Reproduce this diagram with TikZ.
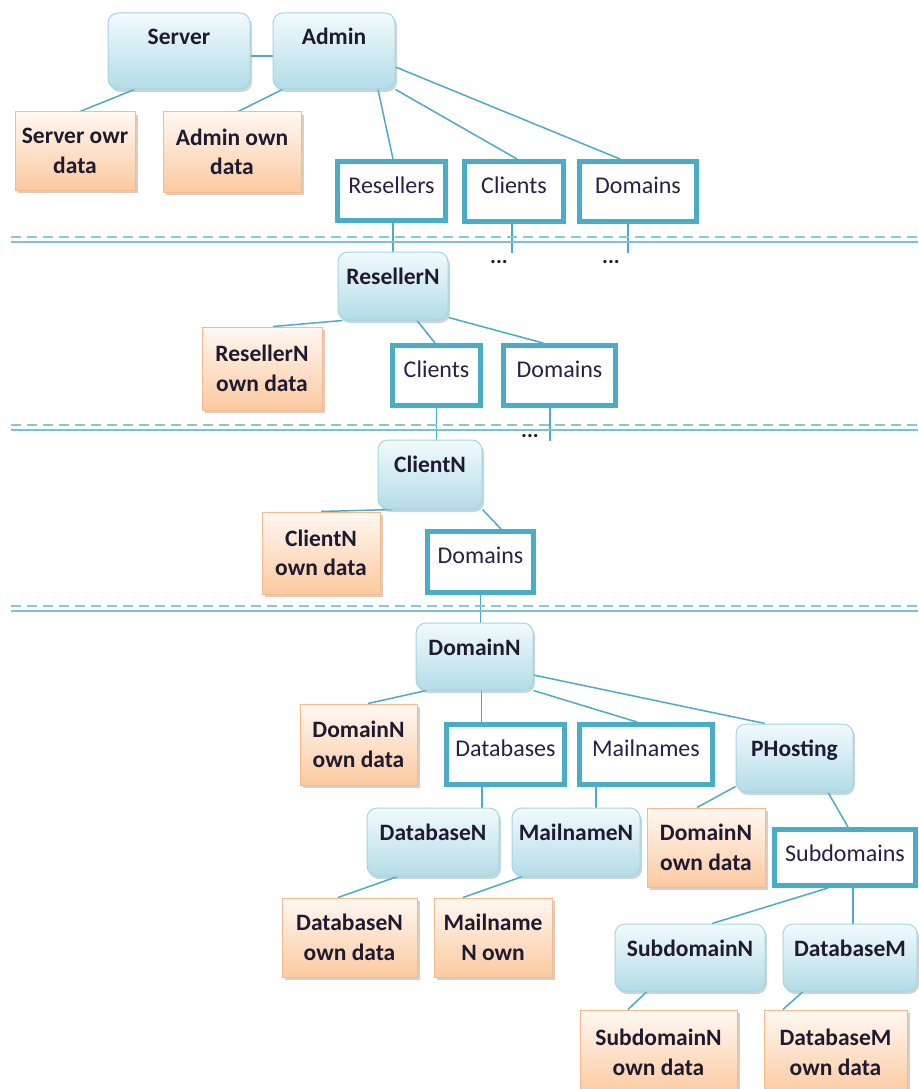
\documentclass[tikz,border=0pt]{standalone}
\usepackage{fontspec}
\setmainfont{Carlito}
\usetikzlibrary{shadows,calc}
\definecolor{lnC}{HTML}{4BACC6}
\definecolor{sepC}{HTML}{86C8D9}
\definecolor{txC}{HTML}{1E1B30}
\definecolor{wtxC}{HTML}{2A1F45}
\definecolor{bTop}{HTML}{F2FAFC}
\definecolor{bBot}{HTML}{B3DCE7}
\definecolor{bDraw}{HTML}{A6D5E2}
\definecolor{bShad}{HTML}{7FA6B4}
\definecolor{oTop}{HTML}{FFF8F2}
\definecolor{oBot}{HTML}{FBC9A0}
\definecolor{oDraw}{HTML}{F8BA8C}
\definecolor{oShad}{HTML}{B98E6E}
\pgfdeclarelayer{bg}
\pgfsetlayers{bg,main}
\tikzset{
  bnode/.style={font=\fontsize{23.5}{29}\selectfont\bfseries, text=txC, draw=bDraw, line width=1pt,
    rounded corners=10pt, top color=bTop, bottom color=bBot, inner sep=0pt, text height=32pt,
    drop shadow={shadow xshift=2pt, shadow yshift=-3pt, fill=bShad, opacity=0.45}},
  onode/.style={font=\fontsize{23.5}{29.5}\selectfont\bfseries, text=txC, draw=oDraw, line width=1pt,
    top color=oTop, bottom color=oBot, inner sep=0pt, align=center,
    drop shadow={shadow xshift=3pt, shadow yshift=-3pt, fill=oShad, opacity=0.45}},
  wnode/.style={font=\fontsize{24}{29}\selectfont, text=wtxC, draw=lnC, line width=5pt, fill=white,
    inner sep=0pt, text height=32pt},
  conn/.style={draw=lnC, line width=1.5pt},
  dotsnode/.style={font=\fontsize{22}{29}\selectfont\bfseries, text=txC, inner sep=0pt},
  sepdash/.style={draw=sepC, line width=2.6pt, dash pattern=on 10pt off 6pt},
  sepline/.style={draw=sepC!80!lnC, line width=1.5pt}
}
\begin{document}
\begin{tikzpicture}[x=1pt,y=-1pt]
\useasboundingbox (0,0) rectangle (918,1089);

% separators
\foreach \yy in {237,425,606}{
  \draw[sepdash] (11,\yy) -- (918,\yy);
  \draw[sepline] (11,\yy+5) -- (918,\yy+5);
}

% blue nodes
\node[bnode, minimum width=142pt, text depth=44pt] (server) at (179,51) {Server};
\node[bnode, minimum width=122pt, text depth=44pt] (admin) at (334,51) {Admin};
\node[bnode, minimum width=110pt, text depth=36pt] (resN) at (393,286) {ResellerN};
\node[bnode, minimum width=104pt, text depth=37pt] (clientN) at (430,474.5) {ClientN};
\node[bnode, minimum width=117pt, text depth=35pt] (domainN) at (474.5,656.5) {DomainN};
\node[bnode, minimum width=117pt, text depth=36pt] (phost) at (794.5,758) {PHosting};
\node[bnode, minimum width=132pt, text depth=36pt] (dbN) at (433,842) {DatabaseN};
\node[bnode, minimum width=128pt, text depth=36pt] (mailN) at (576,842) {MailnameN};
\node[bnode, minimum width=150pt, text depth=35pt] (subN) at (690,957.5) {SubdomainN};
\node[bnode, minimum width=134pt, text depth=35pt] (dbM) at (850,957.5) {DatabaseM};

% orange nodes
\node[onode, minimum width=120pt, minimum height=78pt] (sown) at (75,151) {Server owr\\data};
\node[onode, minimum width=138pt, minimum height=80pt] (aown) at (232,152) {Admin own\\data};
\node[onode, minimum width=120pt, minimum height=83pt] (rown) at (262,368.5) {ResellerN\\own data};
\node[onode, minimum width=118pt, minimum height=82pt] (cown) at (321,553) {ClientN\\own data};
\node[onode, minimum width=117pt, minimum height=81pt] (down) at (358.5,744.5) {DomainN\\own data};
\node[onode, minimum width=135pt, minimum height=79pt] (dbown) at (349.5,937.5) {DatabaseN\\own data};
\node[onode, minimum width=118pt, minimum height=79pt] (mown) at (493,937.5) {Mailname\\N own};
\node[onode, minimum width=118pt, minimum height=79pt] (down2) at (706,847.5) {DomainN\\own data};
\node[onode, minimum width=157pt, minimum height=85pt] (subown) at (658.5,1052.5) {SubdomainN\\own data};
\node[onode, minimum width=143pt, minimum height=85pt] (dbMown) at (835.5,1052.5) {DatabaseM\\own data};

% white boxes
\node[wnode, minimum width=108pt, text depth=27pt] (resellers) at (391.5,191) {Resellers};
\node[wnode, minimum width=99pt, text depth=28pt] (clients1) at (514,191.5) {Clients};
\node[wnode, minimum width=117pt, text depth=28pt] (domains1) at (638,191.5) {Domains};
\node[wnode, minimum width=88pt, text depth=28pt] (clients2) at (436.5,375.5) {Clients};
\node[wnode, minimum width=112pt, text depth=28pt] (domains2) at (559.5,375.5) {Domains};
\node[wnode, minimum width=106pt, text depth=29pt] (domains3) at (480.5,562) {Domains};
\node[wnode, minimum width=118pt, text depth=28pt] (databases) at (505.5,754.5) {Databases};
\node[wnode, minimum width=133pt, text depth=28pt] (mailnames) at (646,754.5) {Mailnames};
\node[wnode, minimum width=141pt, text depth=24pt] (subdomains) at (845,857.5) {Subdomains};

% dots and free ends
\node[dotsnode] (dots1) at (499,262) {...};
\node[dotsnode] (dots2) at (611,262) {...};
\node[dotsnode] (dots3) at (530,436) {...};
\coordinate (end1) at (512,253);
\coordinate (end2) at (628,253);
\coordinate (end3) at (550,441);

\begin{pgfonlayer}{bg}
\fill[white] (0,0) rectangle (918,1089);
\draw[conn] ([yshift=-5pt]server.east) -- ([yshift=-5pt]admin.west);
\draw[conn] ([xshift=27pt]server.south west) -- ([xshift=5pt]sown.north);
\draw[conn] ([xshift=10pt]admin.south west) -- ([xshift=6pt]aown.north);
\draw[conn] ([xshift=44pt]admin.south) -- ([xshift=1.5pt]resellers.north);
\draw[conn] (admin.south east) -- ([xshift=3pt]clients1.north);
\draw[conn] ([yshift=-16pt]admin.east) -- ([xshift=-18pt]domains1.north);
\draw[conn] ([xshift=1.5pt]resellers.south) -- (resN.north);
\draw[conn] (clients1.south -| end1) -- (end1);
\draw[conn] (domains1.south -| end2) -- (end2);
\draw[conn] ([xshift=5pt]resN.south west) -- ([xshift=11pt]rown.north);
\draw[conn] ([xshift=24pt]resN.south) -- ([xshift=-1.5pt]clients2.north);
\draw[conn] ([yshift=3pt]resN.south east) -- ([xshift=-16.5pt]domains2.north);
\draw[conn] (clients2.south) -- (clients2.south |- clientN.north);
\draw[conn] (domains2.south -| end3) -- (end3);
\draw[conn] ([xshift=15pt]clientN.south west) -- (cown.north);
\draw[conn] (clientN.south east) -- ([xshift=20.5pt]domains3.north);
\draw[conn] (domains3.south) -- (domains3.south |- domainN.north);
\draw[conn] ([xshift=11pt]domainN.south west) -- ([xshift=9.5pt]down.north);
\draw[conn] ([xshift=7pt]domainN.south) -- ([xshift=7pt]domainN.south |- databases.north);
\draw[conn] (domainN.south east) -- ([xshift=-9pt]mailnames.north);
\draw[conn] ([yshift=-18.5pt]domainN.east) -- ([xshift=-29.5pt]phost.north);
\draw[conn] ([xshift=-23.5pt]databases.south) -- ([xshift=-23.5pt]databases.south |- dbN.north);
\draw[conn] ([xshift=-50pt]mailnames.south) -- ([xshift=-50pt]mailnames.south |- mailN.north);
\draw[conn] ([xshift=31pt]dbN.south west) -- ([xshift=-11.5pt]dbown.north);
\draw[conn] ([xshift=11pt]mailN.south west) -- ([xshift=-30pt]mown.north);
\draw[conn] ([yshift=6pt]phost.south west) -- ([xshift=-9pt]down2.north);
\draw[conn] ([xshift=33.5pt]phost.south) -- ([xshift=3pt]subdomains.north);
\draw[conn] ([xshift=-17pt]subdomains.south) -- ([xshift=22pt]subN.north);
\draw[conn] ([xshift=8pt]subdomains.south) -- ([xshift=8pt]subdomains.south |- dbM.north);
\draw[conn] ([xshift=-43pt]subN.south) -- ([xshift=-30.5pt]subown.north);
\draw[conn] ([xshift=-47pt]dbM.south) -- ([xshift=-52.5pt]dbMown.north);
\end{pgfonlayer}
\end{tikzpicture}
\end{document}
